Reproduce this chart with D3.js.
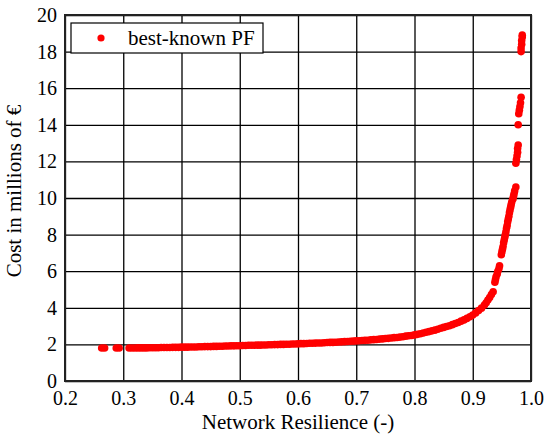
<!DOCTYPE html>
<html>
<head>
<meta charset="utf-8">
<script src="https://cdn.jsdelivr.net/npm/d3@7"></script>
<style>
  body { margin: 0; background: #fff; }
  .tick text { font-family: 'Liberation Serif', 'Times New Roman', serif; font-size: 20px; fill: #000; }
  .grid line { stroke: #000; stroke-width: 1.3; }
  .grid path { display: none; }
</style>
</head>
<body>
<div id="chart"></div>
<script>
// tick values
var xTicks = [0.2, 0.3, 0.4, 0.5, 0.6, 0.7, 0.8, 0.9, 1.0]
var yTicks = [0, 2, 4, 6, 8, 10, 12, 14, 16, 18, 20]

// best-known Pareto front
var resilience = [
  0.263, 0.268, 0.288, 0.293,
  0.310, 0.315, 0.320, 0.325, 0.330, 0.335, 0.340, 0.345, 0.350, 0.355, 0.360, 0.365, 0.370, 0.375, 0.380, 0.385,
  0.390, 0.395, 0.400, 0.405, 0.410, 0.415, 0.420, 0.425, 0.430, 0.435, 0.440, 0.445, 0.450, 0.455, 0.460, 0.465,
  0.470, 0.475, 0.480, 0.485, 0.490, 0.495, 0.500, 0.505, 0.510, 0.515, 0.520, 0.525, 0.530, 0.535, 0.540, 0.545,
  0.550, 0.555, 0.560, 0.565, 0.570, 0.575, 0.580, 0.585, 0.590, 0.595, 0.600, 0.605, 0.610, 0.615, 0.620, 0.625,
  0.630, 0.635, 0.640, 0.645, 0.650, 0.655, 0.660, 0.665, 0.670, 0.675, 0.680, 0.685, 0.690, 0.695, 0.700, 0.705,
  0.710, 0.715, 0.720, 0.725, 0.730, 0.735, 0.740, 0.745, 0.750, 0.755, 0.760, 0.765, 0.770, 0.775, 0.780, 0.785,
  0.790, 0.795, 0.800, 0.805, 0.810, 0.815, 0.820, 0.825, 0.830, 0.835, 0.840, 0.845, 0.850, 0.855, 0.860, 0.865,
  0.870, 0.875, 0.880, 0.885, 0.890, 0.895, 0.900, 0.905, 0.910, 0.915, 0.920, 0.923, 0.926, 0.929, 0.932, 0.935,
  0.938, 0.939, 0.940, 0.942, 0.943, 0.945, 0.946,
  0.949, 0.950, 0.951, 0.952, 0.953, 0.954, 0.955, 0.956, 0.957, 0.958, 0.959, 0.960, 0.961, 0.962, 0.963, 0.964,
  0.965, 0.966, 0.967, 0.969, 0.970, 0.971, 0.972, 0.974,
  0.974, 0.975, 0.976, 0.977, 0.977, 0.978,
  0.978,
  0.979, 0.980, 0.981, 0.982, 0.983,
  0.983, 0.983, 0.984, 0.984, 0.985, 0.985
]
var cost = [
  1.80, 1.80, 1.80, 1.80,
  1.80, 1.80, 1.80, 1.81, 1.81, 1.81, 1.81, 1.82, 1.82, 1.82, 1.82, 1.83, 1.83, 1.83, 1.83, 1.84,
  1.84, 1.84, 1.85, 1.85, 1.85, 1.86, 1.86, 1.86, 1.87, 1.87, 1.88, 1.88, 1.88, 1.89, 1.89, 1.90,
  1.90, 1.91, 1.91, 1.92, 1.92, 1.93, 1.93, 1.94, 1.94, 1.95, 1.95, 1.95, 1.96, 1.96, 1.97, 1.97,
  1.98, 1.98, 1.99, 1.99, 2.00, 2.00, 2.01, 2.01, 2.02, 2.02, 2.03, 2.04, 2.04, 2.05, 2.06, 2.06,
  2.07, 2.08, 2.08, 2.09, 2.10, 2.11, 2.11, 2.12, 2.13, 2.14, 2.15, 2.16, 2.17, 2.18, 2.19, 2.20,
  2.21, 2.22, 2.23, 2.25, 2.26, 2.27, 2.29, 2.30, 2.32, 2.33, 2.35, 2.37, 2.38, 2.40, 2.42, 2.45,
  2.47, 2.49, 2.52, 2.55, 2.58, 2.62, 2.66, 2.70, 2.74, 2.78, 2.83, 2.88, 2.93, 2.98, 3.02, 3.08,
  3.14, 3.20, 3.27, 3.34, 3.42, 3.51, 3.60, 3.72, 3.85, 3.98, 4.15, 4.28, 4.42, 4.56, 4.72, 4.88,
  5.40, 5.55, 5.70, 5.85, 6.00, 6.15, 6.30,
  6.90, 7.05, 7.20, 7.35, 7.55, 7.70, 7.85, 8.00, 8.15, 8.35, 8.50, 8.70, 8.85, 9.00, 9.20, 9.35,
  9.50, 9.65, 9.80, 9.95, 10.10, 10.25, 10.40, 10.60,
  11.90, 12.10, 12.30, 12.50, 12.70, 12.90,
  14.00,
  14.60, 14.80, 15.00, 15.20, 15.50,
  18.00, 18.20, 18.40, 18.60, 18.80, 18.90
]

var margin = {top: 15, right: 16, bottom: 57, left: 65}
var width = 547 - margin.left - margin.right
var height = 438 - margin.top - margin.bottom

var svg = d3
  .select('#chart')
  .append('svg')
  .attr('width', 547)
  .attr('height', 438)
  .append('g')
  .attr('transform', 'translate(' + margin.left + ',' + margin.top + ')')

var xScale = d3.scaleLinear().domain([0.2, 1.0]).range([0, width])
var yScale = d3.scaleLinear().domain([0, 20]).range([height, 0])

// grid lines
svg
  .append('g')
  .attr('class', 'grid')
  .attr('transform', 'translate(0,' + height + ')')
  .call(d3.axisBottom(xScale).tickValues(xTicks).tickSize(-height).tickFormat(''))

svg
  .append('g')
  .attr('class', 'grid')
  .call(d3.axisLeft(yScale).tickValues(yTicks).tickSize(-width).tickFormat(''))

// tick labels
svg
  .append('g')
  .attr('transform', 'translate(0,' + height + ')')
  .call(d3.axisBottom(xScale).tickValues(xTicks).tickSize(0).tickPadding(10).tickFormat(d3.format('.1f')))
  .call((g) => g.select('.domain').remove())

svg
  .append('g')
  .call(d3.axisLeft(yScale).tickValues(yTicks).tickSize(0).tickPadding(8))
  .call((g) => g.select('.domain').remove())

// frame
svg
  .append('rect')
  .attr('width', width)
  .attr('height', height)
  .attr('fill', 'none')
  .attr('stroke', '#222')
  .attr('stroke-width', 2)

var points = resilience.map((r, i) => ({r: r, c: cost[i]}))

svg
  .selectAll('.pf')
  .data(points)
  .enter()
  .append('circle')
  .attr('class', 'pf')
  .attr('cx', (d) => xScale(d.r))
  .attr('cy', (d) => yScale(d.c))
  .attr('r', 3.8)
  .attr('fill', '#ff0000')

// legend
var legend = svg.append('g').attr('transform', 'translate(6,8)')
legend
  .append('rect')
  .attr('width', 192)
  .attr('height', 30)
  .attr('fill', '#fff')
  .attr('stroke', '#000')
  .attr('stroke-width', 1.2)
legend
  .append('circle')
  .attr('cx', 30)
  .attr('cy', 15)
  .attr('r', 3.6)
  .attr('fill', '#ff0000')
legend
  .append('text')
  .attr('x', 57)
  .attr('y', 22)
  .attr('font-family', "'Liberation Serif', 'Times New Roman', serif")
  .attr('font-size', 21)
  .text('best-known PF')

// axis titles
svg
  .append('text')
  .attr('x', width / 2)
  .attr('y', height + 48)
  .attr('text-anchor', 'middle')
  .attr('font-family', "'Liberation Serif', 'Times New Roman', serif")
  .attr('font-size', 21)
  .text('Network Resilience (-)')

svg
  .append('text')
  .attr('transform', 'translate(-44,' + (height / 2 - 7) + ') rotate(-90)')
  .attr('text-anchor', 'middle')
  .attr('font-family', "'Liberation Serif', 'Times New Roman', serif")
  .attr('font-size', 21)
  .text('Cost in millions of €')
</script>
</body>
</html>
